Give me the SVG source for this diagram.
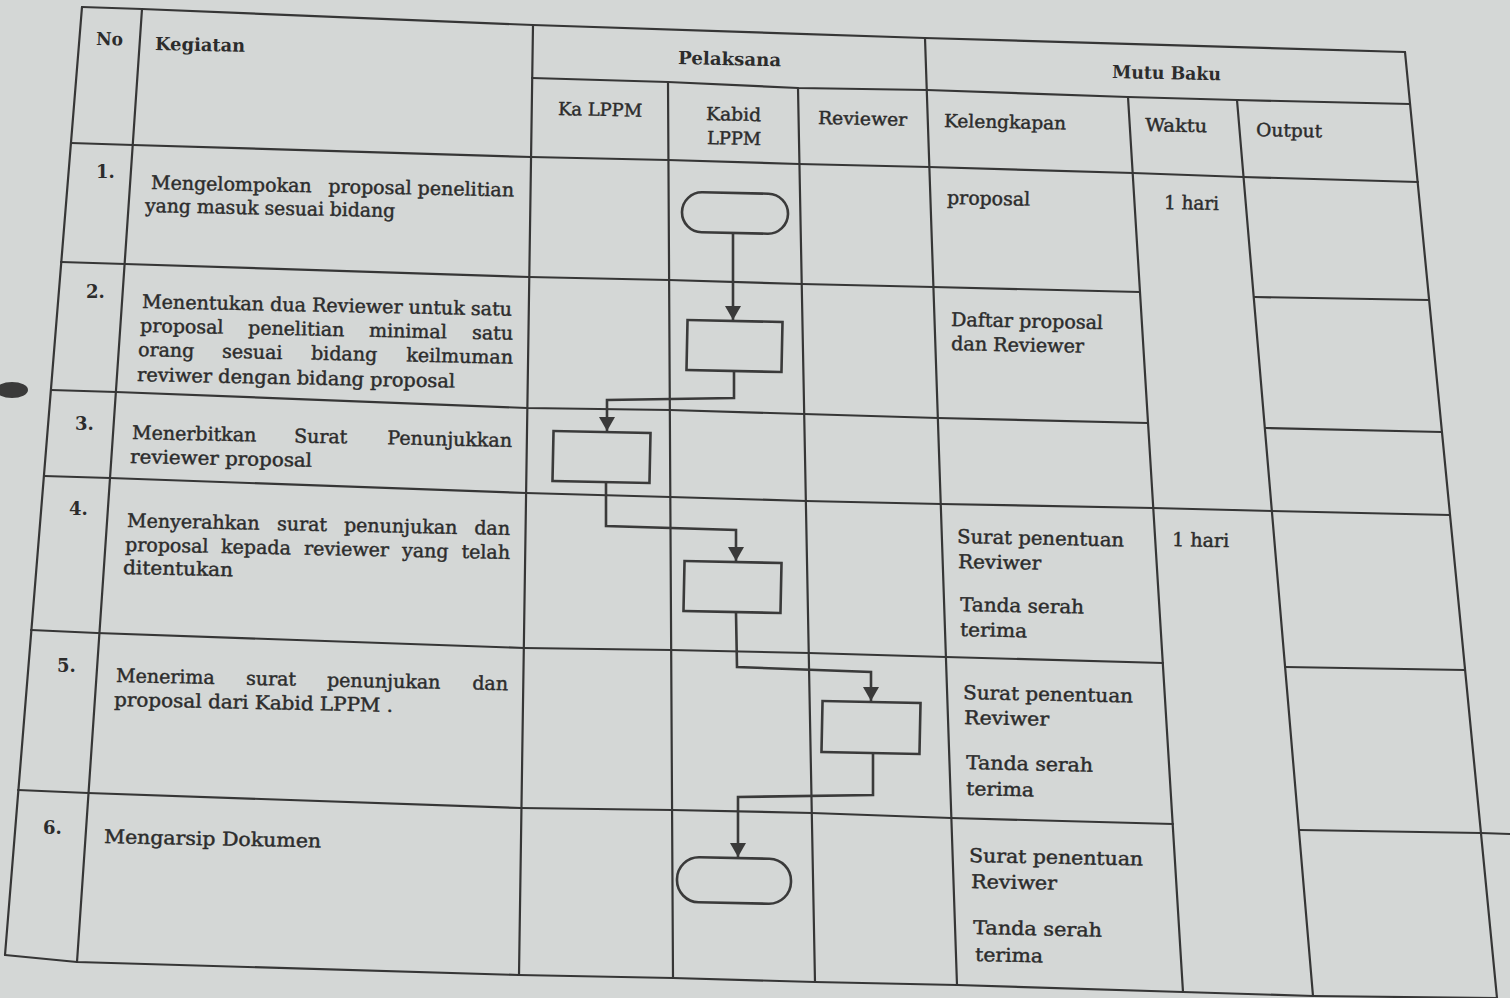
<svg xmlns="http://www.w3.org/2000/svg" width="1510" height="998" viewBox="0 0 1510 998">
<defs>
<style>
.g{fill:none;stroke:#363636;stroke-width:2.2;stroke-linejoin:round;stroke-linecap:round}
.t{font-family:"DejaVu Serif","Liberation Serif",serif;font-size:19px;fill:#2c2c2c;stroke:#2c2c2c;stroke-width:0.45}
.h{font-family:"DejaVu Serif","Liberation Serif",serif;font-size:18px;fill:#2c2c2c;stroke:#2c2c2c;stroke-width:0.45}
.b{font-family:"DejaVu Serif","Liberation Serif",serif;font-size:18px;font-weight:bold;fill:#2c2c2c}
.s{fill:none;stroke:#3a3a3a;stroke-width:2.6}
.c{fill:none;stroke:#3a3a3a;stroke-width:2.6;marker-end:url(#arr)}
</style>
<marker id="arr" markerUnits="userSpaceOnUse" viewBox="0 0 14 16" refX="14" refY="8" markerWidth="18" markerHeight="16" orient="auto">
<path d="M0,0 L14,8 L0,16 z" fill="#3a3a3a"/>
</marker>
</defs>
<rect x="0" y="0" width="1510" height="998" fill="#d4d7d6"/>
<ellipse cx="12" cy="390" rx="16" ry="8" fill="#3a3a3a"/>

<g id="table-grid" class="g">
<polyline points="82,7 142,9 533,25 925,38 1405,52"/>
<polyline points="532,78 668,82 798,88 927,90 1128,97 1237,100 1410,104"/>
<polyline points="71,143 133,145 531,157 668,160 799,164 929,167 1133,173 1243,177 1418,182"/>
<polyline points="61,262 125,264 529,277 669,280 802,284 933,287 1140,292"/>
<polyline points="1254,297 1429,300"/>
<polyline points="51,390 116,392 527,408 670,410 804,414 938,418 1148,423"/>
<polyline points="1265,428 1442,432"/>
<polyline points="44,476 110,478 526,493 670,497 806,501 941,504 1153,508 1272,511 1450,515"/>
<polyline points="31,630 97,633 524,648 671,650 809,653 946,657 1163,663"/>
<polyline points="1285,667 1465,670"/>
<polyline points="18,790 88,793 521,808 672,810 812,813 951,818 1173,824"/>
<polyline points="1299,830 1481,833 1510,834"/>
<polyline points="5,955 77,962 519,975 673,978 815,982 957,985 1183,992 1313,996 1497,998"/>
<line x1="82" y1="7" x2="5" y2="955"/>
<line x1="142" y1="9" x2="77" y2="962"/>
<line x1="533" y1="25" x2="519" y2="975"/>
<line x1="668" y1="82" x2="673" y2="978"/>
<line x1="798" y1="88" x2="815" y2="982"/>
<line x1="925" y1="38" x2="957" y2="985"/>
<line x1="1128" y1="97" x2="1183" y2="992"/>
<line x1="1237" y1="100" x2="1313" y2="996"/>
<line x1="1405" y1="52" x2="1497" y2="998"/>
</g>

<g id="header">
<text class="b" x="96" y="45" textLength="27" lengthAdjust="spacingAndGlyphs" transform="rotate(1.2 96 45)">No</text>
<text class="b" x="155" y="50" textLength="90" lengthAdjust="spacingAndGlyphs" transform="rotate(1.2 155 50)">Kegiatan</text>
<text class="b" x="678" y="64" textLength="103" lengthAdjust="spacingAndGlyphs" transform="rotate(1.2 678 64)">Pelaksana</text>
<text class="b" x="1112" y="78" textLength="109" lengthAdjust="spacingAndGlyphs" transform="rotate(1.2 1112 78)">Mutu Baku</text>
<text class="h" x="558" y="115" textLength="84" lengthAdjust="spacingAndGlyphs" transform="rotate(1.2 558 115)">Ka LPPM</text>
<text class="h" x="706" y="120" textLength="55" lengthAdjust="spacingAndGlyphs" transform="rotate(1.2 706 120)">Kabid</text>
<text class="h" x="707" y="144" textLength="54" lengthAdjust="spacingAndGlyphs" transform="rotate(1.2 707 144)">LPPM</text>
<text class="h" x="818" y="124" textLength="89" lengthAdjust="spacingAndGlyphs" transform="rotate(1.2 818 124)">Reviewer</text>
<text class="h" x="944" y="127" textLength="122" lengthAdjust="spacingAndGlyphs" transform="rotate(1.2 944 127)">Kelengkapan</text>
<text class="h" x="1145" y="131" textLength="62" lengthAdjust="spacingAndGlyphs" transform="rotate(1.2 1145 131)">Waktu</text>
<text class="h" x="1256" y="136" textLength="66" lengthAdjust="spacingAndGlyphs" transform="rotate(1.2 1256 136)">Output</text>
</g>

<g id="row1">
<text class="b" x="96" y="178">1.</text>
<g transform="rotate(1.2 151 189)">
<text class="t" x="151" y="189">Mengelompokan</text>
<text class="t" x="370" y="189" text-anchor="middle">proposal</text>
<text class="t" x="514" y="189" text-anchor="end">penelitian</text>
</g>
<text class="t" x="145" y="212" textLength="250" lengthAdjust="spacingAndGlyphs" transform="rotate(1.2 145 212)">yang masuk sesuai bidang</text>
<text class="t" x="947" y="204" textLength="83" lengthAdjust="spacingAndGlyphs" transform="rotate(1.2 947 204)">proposal</text>
<text class="t" x="1164" y="209" textLength="55" lengthAdjust="spacingAndGlyphs" transform="rotate(1.2 1164 209)">1 hari</text>
</g>

<g id="row2">
<text class="b" x="86" y="298">2.</text>
<text class="t" x="142" y="308" textLength="370" lengthAdjust="spacingAndGlyphs" transform="rotate(1.2 142 308)">Menentukan dua Reviewer untuk satu</text>
<g transform="rotate(1.2 140 332)">
<text class="t" x="140" y="332">proposal</text>
<text class="t" x="248" y="332">penelitian</text>
<text class="t" x="369" y="332">minimal</text>
<text class="t" x="513" y="332" text-anchor="end">satu</text>
</g>
<g transform="rotate(1.2 138 356)">
<text class="t" x="138" y="356">orang</text>
<text class="t" x="222" y="356">sesuai</text>
<text class="t" x="311" y="356">bidang</text>
<text class="t" x="513" y="356" text-anchor="end">keilmuman</text>
</g>
<text class="t" x="137" y="381" textLength="318" lengthAdjust="spacingAndGlyphs" transform="rotate(1.2 137 381)">reviwer dengan bidang proposal</text>
<text class="t" x="951" y="326" textLength="152" lengthAdjust="spacingAndGlyphs" transform="rotate(1.2 951 326)">Daftar proposal</text>
<text class="t" x="951" y="350" textLength="133" lengthAdjust="spacingAndGlyphs" transform="rotate(1.2 951 350)">dan Reviewer</text>
</g>

<g id="row3">
<text class="b" x="75" y="430">3.</text>
<g transform="rotate(1.2 132 439)">
<text class="t" x="132" y="439">Menerbitkan</text>
<text class="t" x="294" y="439">Surat</text>
<text class="t" x="512" y="439" text-anchor="end">Penunjukkan</text>
</g>
<text class="t" x="130" y="463" textLength="182" lengthAdjust="spacingAndGlyphs" transform="rotate(1.2 130 463)">reviewer proposal</text>
</g>

<g id="row4">
<text class="b" x="69" y="515">4.</text>
<g transform="rotate(1.2 127 527)">
<text class="t" x="127" y="527">Menyerahkan</text>
<text class="t" x="277" y="527">surat</text>
<text class="t" x="344" y="527">penunjukan</text>
<text class="t" x="510" y="527" text-anchor="end">dan</text>
</g>
<g transform="rotate(1.2 125 551)">
<text class="t" x="125" y="551">proposal</text>
<text class="t" x="221" y="551">kepada</text>
<text class="t" x="304" y="551">reviewer</text>
<text class="t" x="402" y="551">yang</text>
<text class="t" x="510" y="551" text-anchor="end">telah</text>
</g>
<text class="t" x="123" y="574" textLength="110" lengthAdjust="spacingAndGlyphs" transform="rotate(1.2 123 574)">ditentukan</text>
<text class="t" x="957" y="543" textLength="167" lengthAdjust="spacingAndGlyphs" transform="rotate(1.2 957 543)">Surat penentuan</text>
<text class="t" x="958" y="568" textLength="83" lengthAdjust="spacingAndGlyphs" transform="rotate(1.2 958 568)">Reviwer</text>
<text class="t" x="960" y="611" textLength="124" lengthAdjust="spacingAndGlyphs" transform="rotate(1.2 960 611)">Tanda serah</text>
<text class="t" x="960" y="636" textLength="67" lengthAdjust="spacingAndGlyphs" transform="rotate(1.2 960 636)">terima</text>
<text class="t" x="1172" y="546" textLength="57" lengthAdjust="spacingAndGlyphs" transform="rotate(1.2 1172 546)">1 hari</text>
</g>

<g id="row5">
<text class="b" x="57" y="672">5.</text>
<g transform="rotate(1.2 116 682)">
<text class="t" x="116" y="682">Menerima</text>
<text class="t" x="246" y="682">surat</text>
<text class="t" x="327" y="682">penunjukan</text>
<text class="t" x="508" y="682" text-anchor="end">dan</text>
</g>
<text class="t" x="114" y="706" textLength="279" lengthAdjust="spacingAndGlyphs" transform="rotate(1.2 114 706)">proposal dari Kabid LPPM .</text>
<text class="t" x="963" y="699" textLength="170" lengthAdjust="spacingAndGlyphs" transform="rotate(1.2 963 699)">Surat penentuan</text>
<text class="t" x="964" y="724" textLength="85" lengthAdjust="spacingAndGlyphs" transform="rotate(1.2 964 724)">Reviwer</text>
<text class="t" x="966" y="769" textLength="127" lengthAdjust="spacingAndGlyphs" transform="rotate(1.2 966 769)">Tanda serah</text>
<text class="t" x="966" y="795" textLength="68" lengthAdjust="spacingAndGlyphs" transform="rotate(1.2 966 795)">terima</text>
</g>

<g id="row6">
<text class="b" x="43" y="834">6.</text>
<text class="t" x="104" y="843" textLength="217" lengthAdjust="spacingAndGlyphs" transform="rotate(1.2 104 843)">Mengarsip Dokumen</text>
<text class="t" x="969" y="862" textLength="174" lengthAdjust="spacingAndGlyphs" transform="rotate(1.2 969 862)">Surat penentuan</text>
<text class="t" x="971" y="888" textLength="86" lengthAdjust="spacingAndGlyphs" transform="rotate(1.2 971 888)">Reviwer</text>
<text class="t" x="973" y="934" textLength="129" lengthAdjust="spacingAndGlyphs" transform="rotate(1.2 973 934)">Tanda serah</text>
<text class="t" x="975" y="961" textLength="68" lengthAdjust="spacingAndGlyphs" transform="rotate(1.2 975 961)">terima</text>
</g>

<g id="n1"><rect class="s" x="682" y="193" width="106" height="40" rx="20" transform="rotate(1.2 735 213)"/></g>
<g id="n2"><rect class="s" x="687" y="321" width="95" height="50" transform="rotate(1.2 734.5 346)"/></g>
<g id="n3"><rect class="s" x="553" y="432" width="97" height="50" transform="rotate(1.2 601.5 457)"/></g>
<g id="n4"><rect class="s" x="684" y="562" width="97" height="50" transform="rotate(1.2 732.5 587)"/></g>
<g id="n5"><rect class="s" x="822" y="702" width="98" height="51" transform="rotate(1.2 871 727.5)"/></g>
<g id="n6"><rect class="s" x="677" y="858" width="114" height="45" rx="22" transform="rotate(1.2 734 880.5)"/></g>

<g id="connectors">
<polyline class="c" points="733,233 733,320"/>
<polyline class="c" points="734,372 734,398 607,400 607,431"/>
<polyline class="c" points="606,482 606,526 736,530 736,561"/>
<polyline class="c" points="736,613 737,667 871,672 871,701"/>
<polyline class="c" points="873,754 873,795 738,797 738,857"/>
</g>
</svg>
